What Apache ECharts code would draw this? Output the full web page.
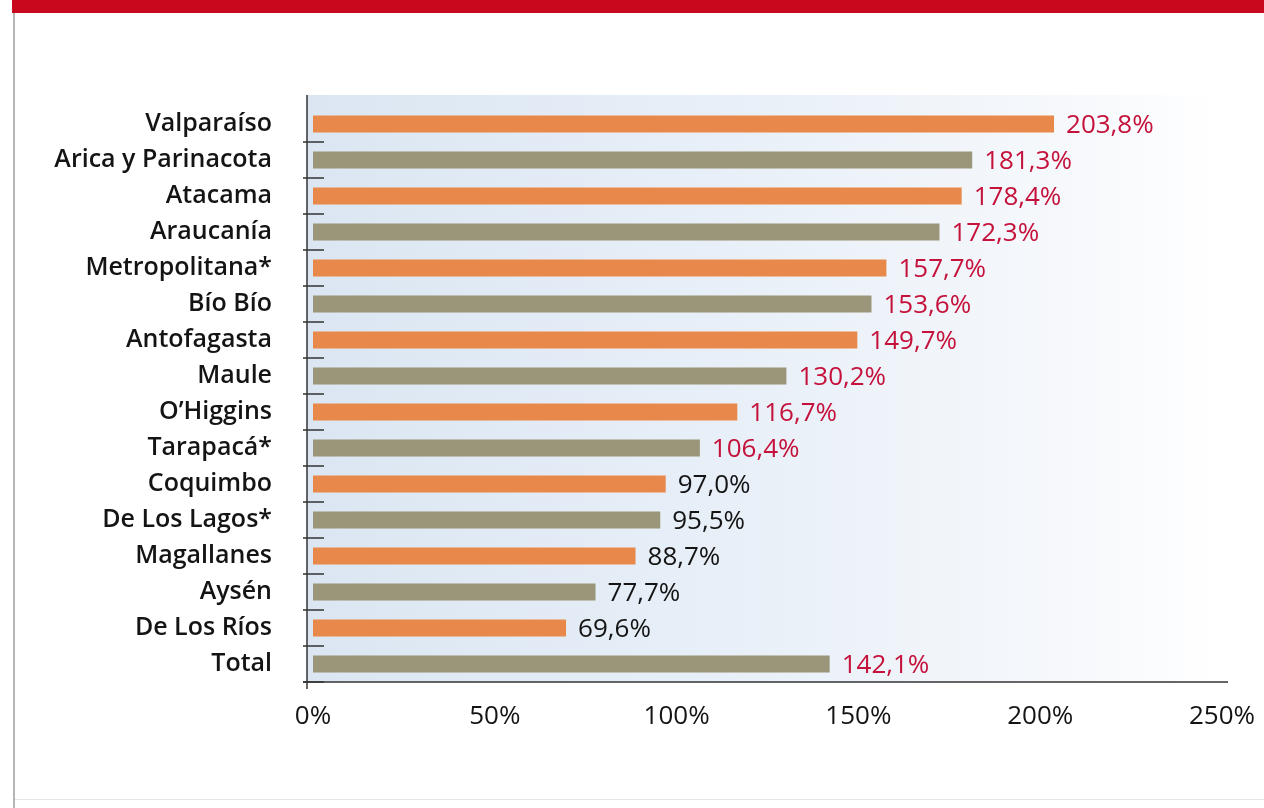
<!DOCTYPE html>
<html><head><meta charset="utf-8">
<script src="https://cdn.jsdelivr.net/npm/echarts@6/dist/echarts.min.js"></script>
<style>html,body{margin:0;padding:0;background:#fff}#c{width:1264px;height:808px}</style>
</head><body><div id="c"></div>
<script>
const categories = ["Valparaíso","Arica y Parinacota","Atacama","Araucanía","Metropolitana*","Bío Bío","Antofagasta","Maule","O’Higgins","Tarapacá*","Coquimbo","De Los Lagos*","Magallanes","Aysén","De Los Ríos","Total"];
const values = [203.8,181.3,178.4,172.3,157.7,153.6,149.7,130.2,116.7,106.4,97.0,95.5,88.7,77.7,69.6,142.1];
const xTicks = [0,50,100,150,200,250];

const FONT = '"Open Sans", "Noto Sans", sans-serif';
const ORANGE = '#e8894b', OLIVE = '#9b9579', RED = '#c4123b', DARK = '#141414';
const chart = echarts.init(document.getElementById('c'));
const G = {left:313, right:42, top:106, bottom:126};
const data = values.map((v,i)=>({
  value:v,
  itemStyle:{color: i%2===0 ? ORANGE : OLIVE},
  label:{color: v>=100 ? RED : DARK}
}));
chart.setOption({
  animation:false,
  backgroundColor:'#ffffff',
  graphic:[
    {type:'rect', shape:{x:12,y:0,width:1252,height:13}, style:{fill:'#c8081d'}, z:0},
    {type:'rect', shape:{x:13,y:13,width:2,height:795}, style:{fill:'#b5b5b5'}, z:0},
    {type:'rect', shape:{x:15,y:799,width:1249,height:1}, style:{fill:'#e6e6e6'}, z:0},
    {type:'rect', shape:{x:307,y:95,width:915,height:587}, z:-10,
      style:{fill:new echarts.graphic.LinearGradient(0,0,1,0,[
        {offset:0,color:'#dbe6f2'},{offset:0.5,color:'#e9f0f8'},{offset:0.85,color:'#f7f9fc'},{offset:1,color:'#ffffff'}])}},
    {type:'line', shape:{x1:307,y1:95,x2:307,y2:689}, style:{stroke:'#333',lineWidth:1.5}, z:5},
    {type:'line', shape:{x1:303,y1:682,x2:1228,y2:682}, style:{stroke:'#333',lineWidth:1.5}, z:5}
  ],
  grid:{left:G.left,right:G.right,top:G.top,bottom:G.bottom,containLabel:false},
  xAxis:{
    type:'value', min:0, max:250, interval:50,
    axisLine:{show:false},
    axisTick:{show:false}, splitLine:{show:false},
    axisLabel:{formatter:'{value}%', color:DARK, fontSize:26, fontWeight:500, fontFamily:FONT, margin:22,
      customValues: xTicks}
  },
  yAxis:[{
    type:'category', data:categories, inverse:true, offset:6,
    axisLine:{show:false},
    axisTick:{show:true, length:10, lineStyle:{color:'#333', width:1.5},
      interval:(i)=>i>0},
    axisLabel:{color:DARK, fontSize:25, fontWeight:600, fontFamily:FONT, margin:35}
  },{
    type:'category', data:categories, inverse:true, position:'left', offset:6,
    axisLine:{show:false},
    axisTick:{show:true, inside:true, length:17, lineStyle:{color:'#333', width:1.5},
      interval:(i)=>i>0},
    axisLabel:{show:false}
  }],
  series:[{
    type:'bar', data:data, yAxisIndex:0, barWidth:17,
    label:{show:true, position:'right', distance:12, fontSize:26, fontWeight:500, fontFamily:FONT,
      offset:[0,2],
      formatter:p=>p.value.toFixed(1).replace('.',',')+'%'}
  }]
});
</script></body></html>
